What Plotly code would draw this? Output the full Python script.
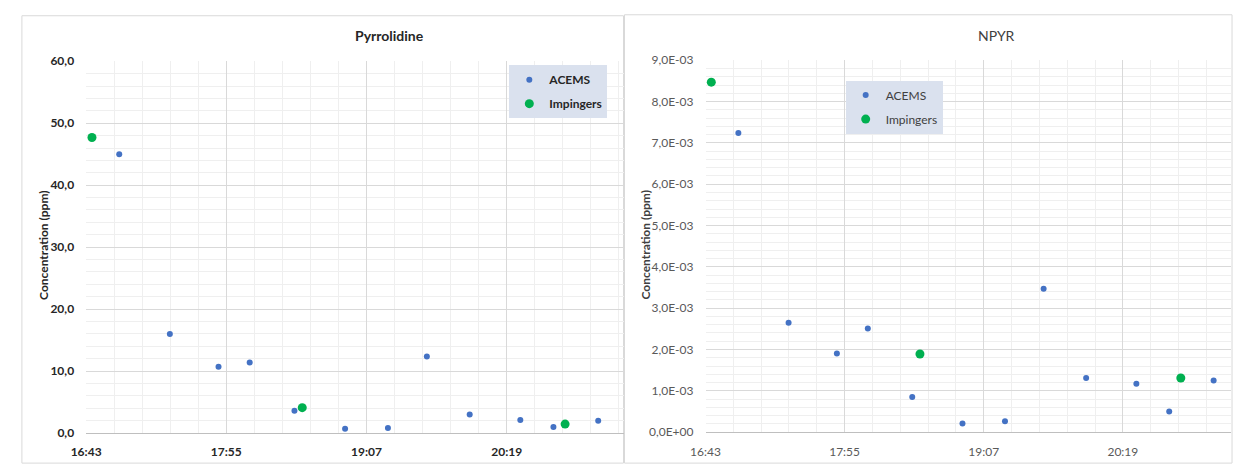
import plotly.graph_objects as go

# ---- data ----
day = "2020-01-01 "
acems_times = ["17:00", "17:26", "17:51", "18:07", "18:30", "18:56", "19:18",
               "19:38", "20:00", "20:26", "20:43", "21:06"]
imp_times = ["16:46", "18:34", "20:49"]

pyr_acems = [45.0, 16.0, 10.7, 11.4, 3.6, 0.7, 0.8, 12.35, 3.0, 2.1, 1.0, 2.0]
pyr_imp = [47.7, 4.1, 1.45]

npyr_acems = [7.24e-3, 2.65e-3, 1.90e-3, 2.51e-3, 0.85e-3, 0.21e-3, 0.26e-3,
              3.47e-3, 1.31e-3, 1.17e-3, 0.50e-3, 1.25e-3]
npyr_imp = [8.47e-3, 1.89e-3, 1.31e-3]

pyr_ticks = [0, 10, 20, 30, 40, 50, 60]
pyr_ticktext = ["0,0", "10,0", "20,0", "30,0", "40,0", "50,0", "60,0"]
npyr_ticks = [0, 1e-3, 2e-3, 3e-3, 4e-3, 5e-3, 6e-3, 7e-3, 8e-3, 9e-3]
npyr_ticktext = ["0,0E+00", "1,0E-03", "2,0E-03", "3,0E-03", "4,0E-03",
                 "5,0E-03", "6,0E-03", "7,0E-03", "8,0E-03", "9,0E-03"]

ta = [day + t for t in acems_times]
ti = [day + t for t in imp_times]

W, H = 1234, 473
def px(x): return x / W
def py(y): return 1 - y / H

BLUE = "#4472C4"
GREEN = "#00B050"
FONT = "Lato"

fig = go.Figure()
fig.add_trace(go.Scatter(x=ta, y=pyr_acems, mode="markers", name="ACEMS", legendgroup="a",
                         marker=dict(color=BLUE, size=6), xaxis="x", yaxis="y", legend="legend"))
fig.add_trace(go.Scatter(x=ti, y=pyr_imp, mode="markers", name="Impingers", legendgroup="b",
                         marker=dict(color=GREEN, size=9), xaxis="x", yaxis="y", legend="legend"))
fig.add_trace(go.Scatter(x=ta, y=npyr_acems, mode="markers", name="ACEMS", legendgroup="c",
                         marker=dict(color=BLUE, size=6), xaxis="x2", yaxis="y2", legend="legend2"))
fig.add_trace(go.Scatter(x=ti, y=npyr_imp, mode="markers", name="Impingers", legendgroup="d",
                         marker=dict(color=GREEN, size=9), xaxis="x2", yaxis="y2", legend="legend2"))

MAJ = "#d9d9d9"
MIN = "#efefef"

def xax(domain, end, bold):
    return dict(
        type="date", domain=domain,
        range=[day + "16:43", day + end],
        tick0=day + "16:43", dtick=72 * 60000, tickformat="%H:%M",
        showgrid=True, gridcolor=MAJ, gridwidth=1,
        minor=dict(dtick=72 * 60000 / 5, tick0=day + "16:43", showgrid=True, gridcolor=MIN),
        showline=True, linecolor="#bfbfbf", linewidth=1,
        ticks="", ticklabelstandoff=8, zeroline=False,
        tickfont=dict(family=FONT, size=12, color="#262626" if bold else "#595959",
                      weight="bold" if bold else "normal"),
    )

def yax(domain, rng, vals, text, minor_d, bold):
    return dict(
        domain=domain, range=rng, tickmode="array", tickvals=vals, ticktext=text,
        showgrid=True, gridcolor=MAJ, gridwidth=1,
        minor=dict(dtick=minor_d, tick0=0, showgrid=True, gridcolor=MIN),
        showline=False, zeroline=False, ticks="", ticklabelstandoff=11,
        tickfont=dict(family=FONT, size=12, color="#262626" if bold else "#595959",
                      weight="bold" if bold else "normal"),
    )

fig.update_layout(
    width=W, height=H, margin=dict(l=0, r=0, t=0, b=0),
    paper_bgcolor="white", plot_bgcolor="white",
    xaxis=xax([px(72), px(616)], "21:19", True) | dict(anchor="y"),
    yaxis=yax([py(439), py(55)], [0, 60], pyr_ticks, pyr_ticktext, 2, True) | dict(anchor="x"),
    xaxis2=xax([px(699), px(1231)], "21:15", False) | dict(anchor="y2"),
    yaxis2=yax([py(438), py(54)], [0, 9e-3], npyr_ticks, npyr_ticktext, 2e-4, False) | dict(anchor="x2"),
    legend=dict(x=px(550), y=py(59), xanchor="center", yanchor="top", bgcolor="#dae1ee",
                font=dict(family=FONT, size=12, color="#262626", weight="bold"),
                itemwidth=30, tracegroupgap=5, borderwidth=0),
    legend2=dict(x=px(890), y=py(75), xanchor="center", yanchor="top", bgcolor="#dae1ee",
                 font=dict(family=FONT, size=12, color="#404040"),
                 itemwidth=30, tracegroupgap=5, borderwidth=0),
    showlegend=True,
)

shapes = []
for (x0, x1, y0, y1) in [(7, 616, 8, 470), (617, 1232, 7, 470)]:
    shapes.append(dict(type="rect", xref="paper", yref="paper",
                       x0=px(x0), x1=px(x1), y0=py(y1), y1=py(y0),
                       line=dict(color="#d9d9d9", width=1), layer="below"))
fig.update_layout(shapes=shapes)

ann = [
    dict(text="Pyrrolidine", x=px(379), y=py(28), font=dict(family=FONT, size=14, color="#262626", weight="bold")),
    dict(text="NPYR", x=px(994), y=py(28), font=dict(family=FONT, size=14, color="#404040")),
    dict(text="Concentration (ppm)", x=px(29), y=py(245), textangle=-90,
         font=dict(family=FONT, size=12, color="#262626", weight="bold")),
    dict(text="Concentration (ppm)", x=px(638), y=py(245), textangle=-90,
         font=dict(family=FONT, size=12, color="#404040", weight="bold")),
]
for a in ann:
    a.update(xref="paper", yref="paper", showarrow=False, xanchor="center", yanchor="middle")
fig.update_layout(annotations=ann)

fig.write_html("out.html", config={"displayModeBar": False},
               post_script="document.body.style.margin='0';document.body.style.overflow='hidden';")
